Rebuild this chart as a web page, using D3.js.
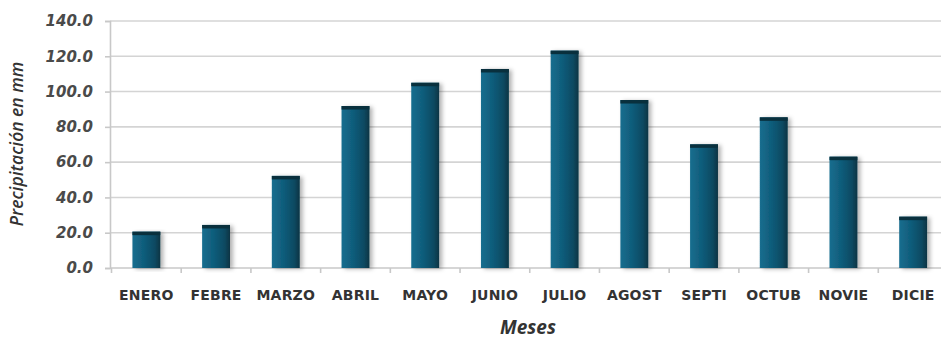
<!DOCTYPE html>
<html><head><meta charset="utf-8">
<script src="https://cdn.jsdelivr.net/npm/d3@7"></script>
<style>body{margin:0;background:#fff}svg{display:block}</style>
</head><body>
<svg id="c" width="941" height="341"></svg>
<script>
const months = ["ENERO","FEBRE","MARZO","ABRIL","MAYO","JUNIO","JULIO","AGOST","SEPTI","OCTUB","NOVIE","DICIE"];
const precip = [20.6, 24.4, 52.2, 91.8, 105.0, 112.8, 123.2, 95.2, 70.1, 85.4, 63.1, 29.1];
const yTicks = [0, 20, 40, 60, 80, 100, 120, 140];
const yTitle = "Precipitación en mm";
const xTitle = "Meses";

const svg = d3.select("#c");
const x = d3.scaleBand().domain(months).range([111.5, 948]).paddingInner(0.6).paddingOuter(0.3);
const y = d3.scaleLinear().domain([0, 140]).range([268, 21]);

const defs = svg.append("defs");
const g = defs.append("linearGradient").attr("id","bar").attr("x1","0").attr("x2","1");
g.append("stop").attr("offset","0").attr("stop-color","#1a6e8f");
g.append("stop").attr("offset","0.45").attr("stop-color","#0e5b79");
g.append("stop").attr("offset","0.8").attr("stop-color","#0a4a62");
g.append("stop").attr("offset","1").attr("stop-color","#073444");
const f = defs.append("filter").attr("id","sh").attr("x","-20%").attr("y","-5%").attr("width","160%").attr("height","115%");
f.append("feDropShadow").attr("dx",3).attr("dy",1).attr("stdDeviation",2).attr("flood-color","#000").attr("flood-opacity",0.3);

// gridlines
svg.append("g").selectAll("line").data(yTicks.filter(d=>d>0)).join("line")
  .attr("x1",110).attr("x2",941).attr("y1",d=>y(d)).attr("y2",d=>y(d))
  .attr("stroke","#d4d4d4").attr("stroke-width",1.6);

// y axis
const ya = svg.append("g").attr("transform","translate(110,0)")
  .call(d3.axisLeft(y).tickValues(yTicks).tickFormat(d3.format(".1f")).tickSize(5).tickPadding(12));
ya.select(".domain").attr("stroke","#c8c8c8").attr("stroke-width",1.6);
ya.selectAll(".tick line").attr("stroke","#c8c8c8").attr("stroke-width",1.6);
ya.selectAll("text").attr("font-family","DejaVu Sans, sans-serif").attr("font-weight","bold")
  .attr("font-style","italic").attr("font-size",15).attr("fill","#4a4a4a");

// x axis
const bounds = months.map((m,i)=> x.range()[0] + i*x.step());
const xa = svg.append("g").attr("transform","translate(0,268)");
xa.append("line").attr("x1",110).attr("x2",941).attr("stroke","#c8c8c8").attr("stroke-width",1.6);
xa.selectAll(".tk").data(bounds).join("line").attr("class","tk")
  .attr("x1",d=>d).attr("x2",d=>d).attr("y1",0).attr("y2",5).attr("stroke","#c8c8c8").attr("stroke-width",1.6);
const xAxis = d3.axisBottom(x).tickSize(0).tickPadding(22);
const xg = svg.append("g").attr("transform","translate(0,268)").call(xAxis);
xg.select(".domain").remove();
xg.selectAll("text").attr("font-family","DejaVu Sans, sans-serif").attr("font-weight","bold")
  .attr("font-size",14).attr("fill","#333").attr("letter-spacing","0.2");

// bars
const bars = svg.append("g").selectAll("g").data(months.map((m,i)=>({m,v:precip[i]}))).join("g");
bars.append("rect").attr("x",d=>x(d.m)).attr("y",d=>y(d.v)).attr("width",x.bandwidth())
  .attr("height",d=>y(0)-y(d.v)).attr("fill","url(#bar)").attr("filter","url(#sh)");
bars.append("rect").attr("x",d=>x(d.m)).attr("y",d=>y(d.v)).attr("width",x.bandwidth())
  .attr("height",3.5).attr("fill","#09303d");

// titles
svg.append("text").attr("transform","translate(23,144) rotate(-90)").attr("text-anchor","middle")
  .attr("font-family","Open Sans, sans-serif").attr("font-style","italic").attr("font-weight","600")
  .attr("font-size",17.5).attr("fill","#333").text(yTitle);
svg.append("text").attr("x",528).attr("y",334).attr("text-anchor","middle")
  .attr("font-family","Open Sans, sans-serif").attr("font-style","italic").attr("font-weight","bold")
  .attr("font-size",19).attr("fill","#333").text(xTitle);
</script>
</body></html>
